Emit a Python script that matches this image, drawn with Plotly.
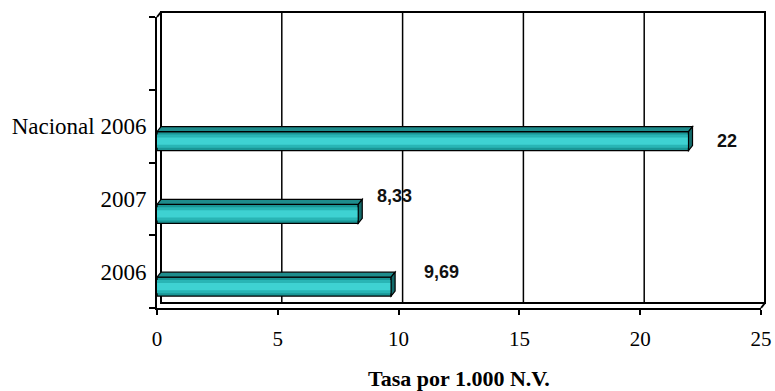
import plotly.graph_objects as go

# Data
categories = ["2006", "2007", "Nacional 2006"]
tasa = [9.69, 8.33, 22]
x_ticks = [0, 5, 10, 15, 20, 25]
x_title = "Tasa por 1.000 N.V."

# Label nudges (pixels) for the value annotations
label_shift = [(50, 0), (36, 3), (38, -15)]

# Plot-area geometry in pixels (front face of the 3D frame)
W, H = 775, 391
L, R, T, B = 157, 14, 17, 83
PW, PH = W - L - R, H - T - B
DEPTH_X, DEPTH_Y = 4, 5  # back-wall offset
X_MAX = x_ticks[-1]
N_SLOTS = len(categories) + 1

# depth expressed in data units
DX = DEPTH_X * X_MAX / PW
DY = DEPTH_Y * N_SLOTS / PH


def px_x(px):
    return (px - L) / PW


def px_y(py):
    return (H - B - py) / PH


fig = go.Figure()

# Bars drawn as nested layers to give a cylindrical shading
BAR_W = 0.26
center_shift = -0.206
layers = [
    (BAR_W, "#1A9696", dict(color="#000000", width=1.3)),
    (0.18, "#29B5B5", dict(width=0)),
    (0.10, "#3ED2D2", dict(width=0)),
]
for w, col, ln in layers:
    fig.add_trace(go.Bar(
        x=tasa, y=categories, orientation="h",
        width=w, offset=center_shift - w / 2,
        marker=dict(color=col, line=ln),
        hoverinfo="skip", showlegend=False,
    ))

shapes = []
# 3D top and end faces of each bar
for i, v in enumerate(tasa):
    yb = i + center_shift - BAR_W / 2
    yt = i + center_shift + BAR_W / 2
    shapes.append(dict(
        type="path", xref="x", yref="y",
        path=f"M 0,{yt} L {v},{yt} L {v + DX},{yt + DY} L {DX},{yt + DY} Z",
        fillcolor="#1E8C8C", line=dict(color="black", width=1.2)))
    shapes.append(dict(
        type="path", xref="x", yref="y",
        path=f"M {v},{yb} L {v},{yt} L {v + DX},{yt + DY} L {v + DX},{yb + DY} Z",
        fillcolor="#136B6B", line=dict(color="black", width=1.2)))

# Value labels
for i, (v, (dx, dy)) in enumerate(zip(tasa, label_shift)):
    txt = f"{v:g}".replace(".", ",")
    fig.add_annotation(
        x=v, y=i, text=f"<b>{txt}</b>", showarrow=False,
        xanchor="center", yanchor="middle", xshift=dx, yshift=dy,
        font=dict(family="Liberation Sans, Arial", size=18, color="#111111"),
    )

# Back wall of the 3D frame
bx0, bx1 = px_x(L + DEPTH_X), px_x(W - R + DEPTH_X)
by0, by1 = px_y(H - B - DEPTH_Y), px_y(T - DEPTH_Y)
shapes.append(dict(type="rect", xref="paper", yref="paper",
                   x0=bx0, x1=bx1, y0=by0, y1=by1,
                   line=dict(color="black", width=2), layer="below"))
# Depth edges
shapes.append(dict(type="line", xref="paper", yref="paper",
                   x0=0, y0=1, x1=bx0, y1=by1,
                   line=dict(color="black", width=2)))
shapes.append(dict(type="line", xref="paper", yref="paper",
                   x0=1, y0=0, x1=bx1, y1=by0,
                   line=dict(color="black", width=2)))
# Vertical gridlines on the back wall
for t in x_ticks[1:-1]:
    shapes.append(dict(type="line", xref="x", yref="paper",
                       xsizemode="pixel", xanchor=t, x0=DEPTH_X, x1=DEPTH_X,
                       y0=by0, y1=by1,
                       line=dict(color="black", width=1.5), layer="below"))

serif = "Liberation Serif, Times New Roman, serif"

fig.update_layout(
    width=W, height=H,
    margin=dict(l=L, r=R, t=T, b=B, pad=0, autoexpand=False),
    paper_bgcolor="white", plot_bgcolor="white",
    barmode="overlay",
    shapes=shapes,
    xaxis=dict(
        range=[0, X_MAX], tickvals=x_ticks, automargin=False,
        showgrid=False, zeroline=False,
        showline=True, linecolor="black", linewidth=2,
        ticks="outside", ticklen=5, tickcolor="black", tickwidth=1.5,
        ticklabelstandoff=6,
        tickfont=dict(family=serif, size=21, color="black"),
        title=dict(text=f"<b>{x_title}</b>", standoff=22,
                   font=dict(family=serif, size=22, color="black")),
    ),
    yaxis=dict(
        type="category",
        categoryorder="array", categoryarray=categories + [" "],
        range=[-0.5, N_SLOTS - 0.5], automargin=False,
        tickson="boundaries",
        showgrid=False, zeroline=False,
        showline=True, linecolor="black", linewidth=2,
        ticks="outside", ticklen=6, tickcolor="black", tickwidth=1.5,
        ticklabelstandoff=4,
        tickfont=dict(family=serif, size=23, color="black"),
    ),
)

fig.write_html("out.html")
